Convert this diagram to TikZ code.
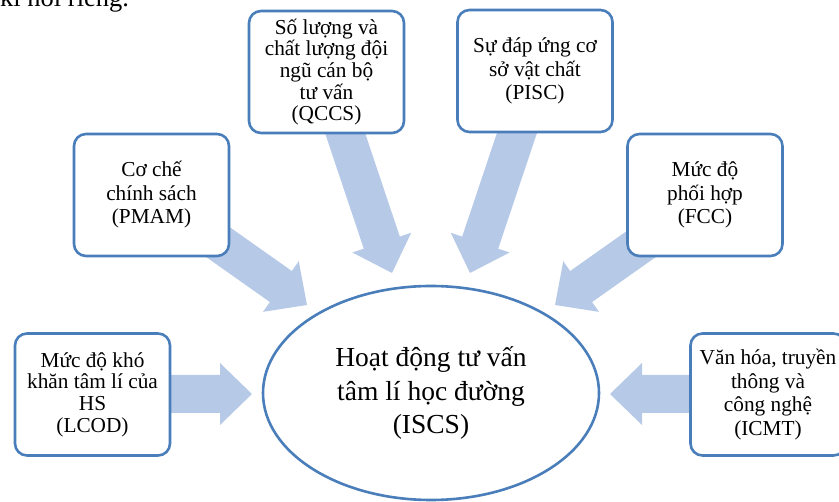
\documentclass[tikz,border=0pt]{standalone}
\usepackage{fontspec}
\setmainfont{Liberation Serif}
\usetikzlibrary{calc,shapes.geometric}
\definecolor{boxblue}{RGB}{74,126,187}
\definecolor{arrowblue}{RGB}{182,202,232}
\tikzset{
  factor/.style={draw=boxblue, line width=2.6pt, rounded corners=12pt, fill=white,
    align=center, inner sep=0pt, minimum width=155pt, minimum height=122pt,
    font=\fontsize{21.3}{23.5}\selectfont},
  hub/.style={ellipse, draw=boxblue, line width=2.6pt, fill=white, align=center,
    inner sep=0pt, minimum width=336pt, minimum height=214pt,
    font=\fontsize{27.5}{33.5}\selectfont},
  arrowfill/.style={fill=arrowblue, draw=none},
  fragment/.style={anchor=base west, inner sep=0pt, font=\fontsize{26.5}{30}\selectfont}
}
\newcommand\blockarrow[2]{%
  \path coordinate (ba-b) at ($(#2)!32pt!(#1)$);
  \fill[arrowfill] ($(#1)!19pt!90:(#2)$) -- ($(ba-b)!19pt!90:(#2)$)
    -- ($(ba-b)!31pt!90:(#2)$) -- (#2) -- ($(ba-b)!31pt!-90:(#2)$)
    -- ($(ba-b)!19pt!-90:(#2)$) -- ($(#1)!19pt!-90:(#2)$) -- cycle;
}
\begin{document}
\begin{tikzpicture}[x=1pt, y=-1pt]
\useasboundingbox (0,0) rectangle (839,502);
\clip (0,0) rectangle (839,502);
% top text fragment
\node[fragment] (frag) at (0,7) {kì nói riêng.};
% arrow end points
\coordinate (t-pmam) at (215,240); \coordinate (p-pmam) at (307,305);
\coordinate (t-qccs) at (339,115); \coordinate (p-qccs) at (392,273);
\coordinate (t-pisc) at (523,115); \coordinate (p-pisc) at (470,273);
\coordinate (t-fcc)  at (647,240); \coordinate (p-fcc)  at (555,305);
\coordinate (t-lcod) at (160,394); \coordinate (p-lcod) at (252,394);
\coordinate (t-icmt) at (700,394); \coordinate (p-icmt) at (610,394);
\blockarrow{t-pmam}{p-pmam}
\blockarrow{t-qccs}{p-qccs}
\blockarrow{t-pisc}{p-pisc}
\blockarrow{t-fcc}{p-fcc}
\blockarrow{t-lcod}{p-lcod}
\blockarrow{t-icmt}{p-icmt}
% boxes
\node[factor, font=\fontsize{21.3}{21.7}\selectfont] (qccs) at (326.5,72)
  {Số lượng và\\chất lượng đội\\ngũ cán bộ\\tư vấn\\(QCCS)};
\node[factor] (pisc) at (535,71) {Sự đáp ứng cơ\\sở vật chất\\(PISC)};
\node[factor] (pmam) at (151.5,195) {Cơ chế\\chính sách\\(PMAM)};
\node[factor] (fcc) at (705,195) {Mức độ\\phối hợp\\(FCC)};
\node[factor, font=\fontsize{21.3}{21.7}\selectfont] (lcod) at (92.5,394.5)
  {Mức độ khó\\khăn tâm lí của\\HS\\(LCOD)};
\node[factor] (icmt) at (768,394.5) {Văn hóa, truyền\\thông và\\công nghệ\\(ICMT)};
% centre
\node[hub] (iscs) at (431,393) {Hoạt động tư vấn\\tâm lí học đường\\(ISCS)};
\end{tikzpicture}
\end{document}
